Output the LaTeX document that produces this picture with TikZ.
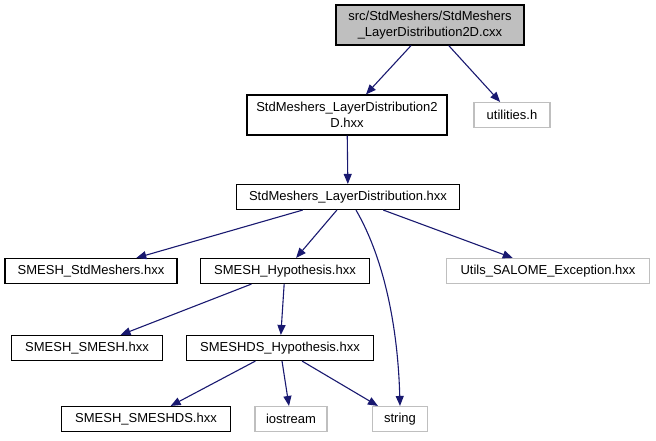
\documentclass[tikz,border=0pt]{standalone}
\usepackage{fontspec}
\setmainfont{Liberation Sans}
\usetikzlibrary{arrows.meta}
\definecolor{edgeblue}{HTML}{191970}
\definecolor{boxgray}{HTML}{BFBFBF}
\begin{document}
\begin{tikzpicture}[x=1pt,y=-1pt,
  file/.style={draw=black,line width=1.1pt,inner sep=0pt,minimum height=25pt,
    font=\fontsize{13}{15.5}\selectfont,align=center},
  sysfile/.style={file,draw=boxgray},
  inc/.style={edgeblue,line width=1.1pt,-{Triangle[length=10pt,width=8pt]}}]
  \useasboundingbox (0,0) rectangle (656,440);
  % files
  \node[file,fill=boxgray,minimum width=188pt,minimum height=40pt] (src) at (430,25)
    {src/StdMeshers/StdMeshers\\\_LayerDistribution2D.cxx};
  \node[file,minimum width=200pt,minimum height=40pt] (ldtwo) at (347,115)
    {StdMeshers\_LayerDistribution2\\D.hxx};
  \node[sysfile,minimum width=76pt] (util) at (512,115) {utilities.h};
  \node[file,minimum width=223pt] (ld) at (348,197) {StdMeshers\_LayerDistribution.hxx};
  \node[file,minimum width=172pt] (smstd) at (91,271) {SMESH\_StdMeshers.hxx};
  \node[file,minimum width=169pt] (smhyp) at (285,271) {SMESH\_Hypothesis.hxx};
  \node[sysfile,minimum width=203pt] (salome) at (548,271) {Utils\_SALOME\_Exception.hxx};
  \node[file,minimum width=151pt] (smsm) at (87,348) {SMESH\_SMESH.hxx};
  \node[file,minimum width=187pt] (dshyp) at (280,348) {SMESHDS\_Hypothesis.hxx};
  \node[file,minimum width=169pt] (smds) at (146,419) {SMESH\_SMESHDS.hxx};
  \node[sysfile,minimum width=72pt] (iostr) at (291,419) {iostream};
  \node[sysfile,minimum width=55pt] (str) at (400,419) {string};
  % includes
  \draw[inc] (src) -- (ldtwo);
  \draw[inc] (src) -- (util);
  \draw[inc] (ldtwo) -- (ld);
  \draw[inc] (ld) -- (smstd);
  \draw[inc] (ld) -- (smhyp);
  \draw[inc] (ld.south) ++(8,0) .. controls (385,260) and (398,330) .. (str.north);
  \draw[inc] (ld) -- (salome);
  \draw[inc] (smhyp) -- (smsm);
  \draw[inc] (smhyp) -- (dshyp);
  \draw[inc] (dshyp) -- (smds);
  \draw[inc] (dshyp) -- (iostr);
  \draw[inc] (dshyp) -- (str);
\end{tikzpicture}
\end{document}
